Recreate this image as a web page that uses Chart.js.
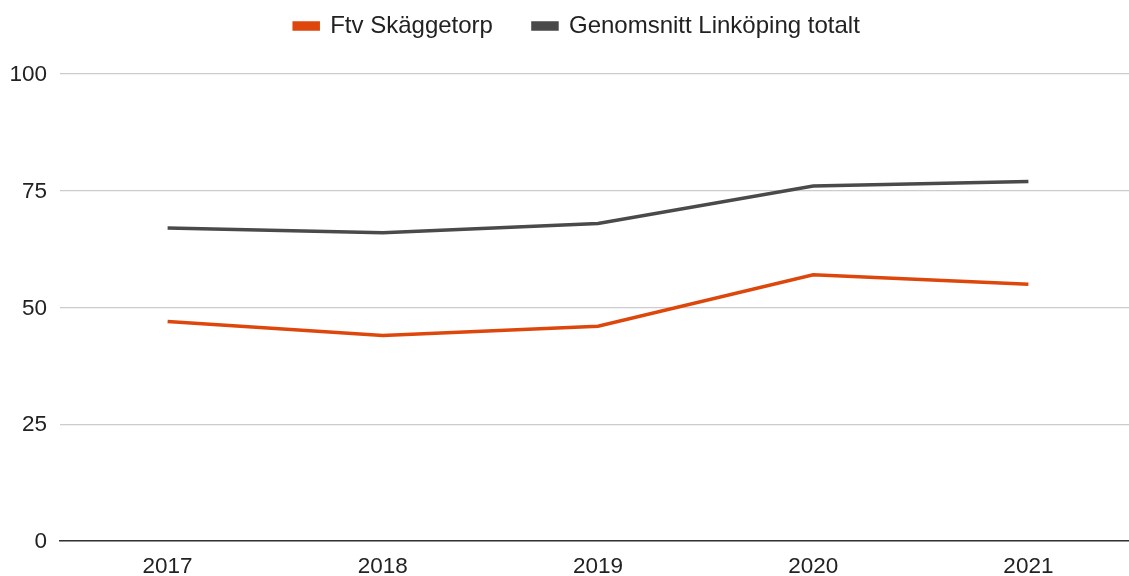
<!DOCTYPE html>
<html>
<head>
<meta charset="utf-8">
<script src="https://cdn.jsdelivr.net/npm/chart.js@4/dist/chart.umd.min.js"></script>
<style>
  html, body { margin: 0; padding: 0; background: #fff; overflow: hidden; }
  #wrap { width: 1136px; height: 576px; }
</style>
</head>
<body>
<div id="wrap"><canvas id="chart"></canvas></div>
<script>
// data
const years = ["2017", "2018", "2019", "2020", "2021"];
const skaggetorp = [47, 44, 46, 57, 55];
const linkopingTotal = [67, 66, 68, 76, 77];
const yTicks = [0, 25, 50, 75, 100];

const orange = "#de470c";
const gray = "#4a4a4a";

// legend: wide gap between items, but keep it near the top
const legendSpacer = {
  id: "legendSpacer",
  beforeInit(chart) {
    const legend = chart.legend;
    const fit = legend.fit;
    legend.fit = function () {
      fit.bind(legend)();
      this.height = 74;
    };
    const draw = legend.draw;
    legend.draw = function () {
      const c = chart.ctx;
      c.save();
      c.translate(9, -26);
      draw.bind(legend)();
      c.restore();
    };
  }
};

const ctx = document.getElementById("chart").getContext("2d");
new Chart(ctx, {
  type: "line",
  data: {
    labels: years,
    datasets: [
      {
        label: "Ftv Skäggetorp",
        data: skaggetorp,
        borderColor: orange,
        backgroundColor: orange,
        borderWidth: 3.5,
        pointRadius: 0,
        tension: 0
      },
      {
        label: "Genomsnitt Linköping totalt",
        data: linkopingTotal,
        borderColor: gray,
        backgroundColor: gray,
        borderWidth: 3.5,
        pointRadius: 0,
        tension: 0
      }
    ]
  },
  options: {
    responsive: true,
    maintainAspectRatio: false,
    animation: false,
    plugins: {
      tooltip: { enabled: false },
      legend: {
        position: "top",
        labels: {
          boxWidth: 24,
          boxHeight: 6,
          padding: 40,
          color: "#222",
          font: { family: "'Liberation Sans', Arial, sans-serif", size: 24 }
        }
      }
    },
    scales: {
      x: {
        offset: true,
        grid: { display: false, drawTicks: false },
        border: { display: true, color: "#333", width: 1.5 },
        ticks: {
          color: "#222",
          padding: 12,
          font: { family: "'Liberation Sans', Arial, sans-serif", size: 22.5 }
        },
        afterFit(scale) { scale.height = 35; }
      },
      y: {
        min: 0,
        max: 100,
        afterBuildTicks(scale) {
          scale.ticks = yTicks.map(v => ({ value: v }));
        },
        grid: { color: "#cccccc", lineWidth: 1.2, drawTicks: false },
        border: { display: false },
        ticks: {
          color: "#222",
          padding: 13,
          labelOffset: 1,
          font: { family: "'Liberation Sans', Arial, sans-serif", size: 22.5 }
        },
        afterFit(scale) { scale.width = 60; }
      }
    }
  },
  plugins: [legendSpacer]
});
</script>
</body>
</html>
